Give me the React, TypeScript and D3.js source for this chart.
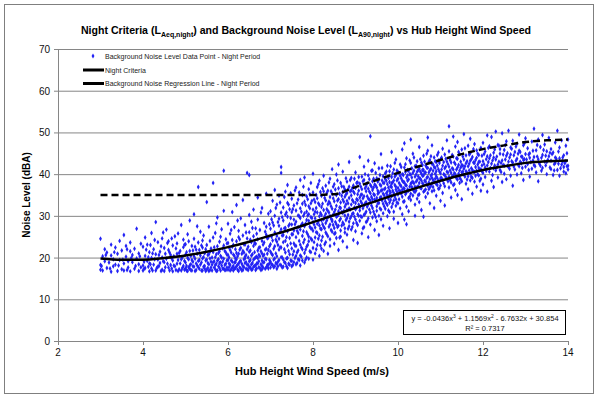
import * as d3 from "d3";

// measured background noise, night period: [wind speed m/s, levels dB(A) at that speed]
const band3to4: [number, number[]][] = [
  [3.0, [24.5, 18.2, 17.1]], [3.05, [20.3, 16.9]], [3.1, [19.1, 22.0]], [3.15, [17.5, 21.2]],
  [3.2, [18.8]], [3.25, [23.1, 16.6, 20.5]], [3.3, [17.9, 19.6]], [3.35, [22.4, 18.3]],
  [3.4, [16.8, 20.9]], [3.45, [19.4, 24.0]], [3.5, [17.2, 21.7]], [3.55, [18.6, 25.4, 16.9]],
  [3.6, [20.2, 22.8]], [3.65, [17.6, 19.1]], [3.7, [21.5, 16.7, 23.6]], [3.75, [18.9, 20.6]],
  [3.8, [17.3, 22.1]], [3.85, [19.8, 26.9]], [3.9, [16.8, 21.0, 18.4]], [3.95, [23.3, 17.7]],
  [3.025, [18.0]], [3.125, [20.6]], [3.225, [17.4]], [3.325, [21.3]], [3.425, [18.1]],
  [3.525, [19.5]], [3.625, [17.0, 22.0]], [3.725, [19.9]], [3.825, [18.0]], [3.925, [20.3]],
];
const band4to5: [number, number[]][] = [
  [4.0, [18.1, 22.6, 16.9]], [4.05, [20.4, 17.5, 24.8]], [4.1, [19.2, 23.1]], [4.15, [16.7, 21.3, 18.6]],
  [4.2, [25.9, 19.9, 17.4]], [4.25, [22.0, 18.3]], [4.3, [16.9, 20.8, 28.5]], [4.35, [19.5, 23.7, 17.8]],
  [4.4, [21.4, 18.7]], [4.45, [17.1, 24.6, 20.0]], [4.5, [18.9, 22.3, 16.8]], [4.55, [26.7, 19.7]],
  [4.6, [17.6, 21.8, 23.9]], [4.65, [20.6, 18.2]], [4.7, [16.7, 22.9, 19.3]], [4.75, [25.1, 17.9]],
  [4.8, [20.9, 18.5, 23.4]], [4.85, [17.2, 21.1]], [4.9, [19.6, 27.8, 16.9]], [4.95, [22.5, 18.0, 24.3]],
  [4.025, [19.0, 17.3]], [4.075, [21.9]], [4.125, [17.8, 20.1]], [4.175, [23.0, 18.4]],
  [4.225, [16.9, 21.0]], [4.275, [19.6, 24.2]], [4.325, [17.5]], [4.375, [20.6, 18.0]],
  [4.425, [22.7, 16.8]], [4.475, [19.1, 26.0]], [4.525, [17.7, 20.9]], [4.575, [18.5, 23.5]],
  [4.625, [16.9, 21.2]], [4.675, [19.8, 17.4, 24.6]], [4.725, [20.3, 18.1]], [4.775, [17.0, 22.2]],
  [4.825, [19.4, 16.8, 25.8]], [4.875, [21.6, 18.6]], [4.925, [17.5, 20.0]], [4.975, [19.2, 23.1, 17.1]],
];
const band5to6: [number, number[]][] = [
  [5.0, [17.4, 20.7, 23.2, 18.8]], [5.05, [19.9, 16.8, 25.6]], [5.1, [21.6, 18.1, 28.9, 17.3]],
  [5.15, [22.8, 19.4, 16.9]], [5.2, [24.5, 17.8, 20.3, 30.4]], [5.25, [18.6, 21.9, 17.0]],
  [5.3, [36.9, 19.2, 23.6, 17.7]], [5.35, [20.5, 18.3, 26.2]], [5.4, [16.9, 22.4, 19.8, 24.1]],
  [5.45, [18.0, 21.0, 17.4]], [5.5, [33.3, 23.0, 19.5, 17.1]], [5.55, [20.8, 27.4, 18.4, 16.8]],
  [5.6, [22.2, 17.6, 19.0]], [5.65, [37.9, 24.8, 18.9, 21.3]], [5.7, [17.2, 20.1, 25.9, 18.2]],
  [5.75, [29.6, 19.3, 16.9, 22.7]], [5.8, [18.7, 21.5, 17.5, 23.8]], [5.85, [20.0, 26.8, 18.1]],
  [5.9, [40.8, 17.3, 22.9, 19.7, 31.2]], [5.95, [18.5, 24.4, 21.2, 17.0]],
  [5.025, [18.0, 21.3, 16.9]], [5.075, [19.6, 17.6, 23.9]], [5.125, [20.4, 18.4, 17.0]],
  [5.175, [21.7, 17.9, 19.0]], [5.225, [16.8, 19.7, 22.6]], [5.275, [18.1, 20.9, 27.5]],
  [5.325, [17.3, 21.8, 19.4]], [5.375, [18.8, 16.9, 22.9]], [5.425, [20.1, 17.8, 25.3]],
  [5.475, [19.3, 22.0, 16.8]], [5.525, [17.5, 20.6, 18.7]], [5.575, [21.4, 17.0, 19.8, 24.0]],
  [5.625, [18.3, 20.0, 16.9]], [5.675, [17.6, 22.5, 19.1]], [5.725, [20.8, 18.5, 16.8, 28.2]],
  [5.775, [17.9, 21.1, 19.6]], [5.825, [16.9, 20.4, 18.8, 25.0]], [5.875, [19.0, 22.2, 17.4]],
  [5.925, [18.2, 21.6, 17.0]], [5.975, [20.7, 19.3, 23.4, 17.6]],
];
const band6to7: [number, number[]][] = [
  [6.0, [19.4, 17.1, 23.5, 28.1, 20.6]], [6.05, [18.2, 21.8, 25.7, 16.9]],
  [6.1, [22.6, 19.0, 17.6, 30.9, 24.2]], [6.15, [18.8, 20.4, 27.3, 17.3]],
  [6.2, [21.1, 17.9, 32.6, 19.6, 23.9]], [6.25, [16.8, 24.9, 18.5, 20.9, 26.4]],
  [6.3, [19.2, 22.3, 17.4, 29.4]], [6.35, [18.0, 21.6, 25.3, 17.0, 33.8]],
  [6.4, [20.2, 23.1, 18.7, 27.8, 19.8]], [6.45, [40.3, 17.2, 22.0, 24.6, 18.3]],
  [6.5, [39.8, 21.4, 19.1, 26.1, 17.7, 30.2]], [6.55, [18.4, 23.7, 20.5, 17.1, 28.6]],
  [6.6, [22.8, 19.5, 25.1, 17.8, 31.5]], [6.65, [20.0, 18.1, 27.0, 23.3, 17.0]],
  [6.7, [24.4, 19.9, 21.7, 18.6, 34.4, 29.1]], [6.75, [17.5, 22.5, 26.6, 20.3]],
  [6.8, [19.3, 18.0, 24.0, 31.9, 21.0, 17.2]], [6.85, [23.6, 20.7, 28.3, 18.9]],
  [6.9, [17.7, 25.5, 19.6, 22.1, 35.3, 27.4]], [6.95, [21.8, 18.3, 30.5, 24.8, 17.4]],
  [6.025, [17.7, 20.0, 18.6, 22.4]], [6.075, [19.3, 17.2, 21.2, 26.6]], [6.125, [18.0, 20.7, 16.9, 23.0]],
  [6.175, [19.7, 17.5, 22.0, 18.9]], [6.225, [17.1, 20.3, 18.3, 28.9]], [6.275, [21.9, 19.0, 17.6, 24.4]],
  [6.325, [18.5, 20.9, 16.9]], [6.375, [19.6, 17.7, 23.2, 21.2]], [6.425, [17.3, 18.9, 20.6, 26.0]],
  [6.475, [20.0, 18.2, 22.6, 17.0]], [6.525, [17.6, 19.4, 24.3, 21.7]], [6.575, [18.7, 20.8, 17.2, 27.1]],
  [6.625, [21.3, 18.0, 19.8, 23.5]], [6.675, [17.4, 20.2, 18.6, 25.7]], [6.725, [19.1, 17.7, 22.3, 20.7]],
  [6.775, [18.4, 21.5, 17.0, 30.8]], [6.825, [20.4, 18.8, 23.1, 17.6]], [6.875, [19.7, 17.3, 21.9, 26.2]],
  [6.925, [18.2, 20.9, 24.6, 17.9]], [6.975, [19.4, 22.7, 18.6, 28.0]],
];
const band7to8: [number, number[]][] = [
  [7.0, [19.0, 23.2, 26.9, 17.6, 31.1, 21.4]], [7.05, [18.2, 28.4, 24.1, 20.6, 33.6]],
  [7.1, [22.7, 17.9, 30.0, 19.8, 26.0, 36.2]], [7.15, [20.3, 25.2, 18.5, 32.7, 23.8, 17.3]],
  [7.2, [27.6, 21.9, 19.4, 29.3, 34.9, 24.5]], [7.25, [41.7, 40.3, 18.1, 22.4, 26.8, 30.8, 20.1]],
  [7.3, [17.8, 23.7, 28.9, 19.5, 32.0, 25.4]], [7.35, [21.2, 27.1, 18.7, 35.8, 24.0, 30.3]],
  [7.4, [19.9, 29.8, 22.9, 17.5, 26.3, 33.1, 37.4]], [7.45, [24.7, 20.8, 31.6, 18.3, 28.0]],
  [7.5, [22.2, 27.9, 19.2, 34.1, 25.6, 30.9, 17.9]], [7.55, [26.5, 21.5, 29.1, 18.9, 32.5, 23.4]],
  [7.6, [20.4, 24.9, 31.3, 28.6, 36.8, 18.4, 22.8]], [7.65, [27.3, 19.6, 33.9, 25.9, 30.1, 21.7]],
  [7.7, [23.1, 29.5, 18.1, 26.7, 38.6, 31.8, 20.5]], [7.75, [25.2, 32.9, 22.0, 28.2, 19.3, 35.0]],
  [7.8, [30.6, 24.3, 27.5, 21.1, 33.4, 18.8, 39.2]], [7.85, [26.1, 29.0, 22.6, 31.0, 20.0, 34.7]],
  [7.9, [28.8, 23.9, 32.3, 25.0, 36.4, 19.7, 30.4]], [7.95, [27.0, 21.3, 33.0, 29.7, 24.6, 37.9]],
  [7.025, [18.4, 20.9, 25.0, 29.2]], [7.075, [17.7, 22.1, 27.7, 19.5]], [7.125, [21.0, 18.7, 24.3, 31.9]],
  [7.175, [19.0, 23.0, 28.5, 17.9]], [7.225, [22.5, 18.3, 26.1, 33.2]], [7.275, [20.0, 25.3, 17.6, 29.7]],
  [7.325, [18.9, 22.0, 27.0, 34.5]], [7.375, [24.9, 19.8, 30.8, 17.9]], [7.425, [21.6, 27.6, 18.5, 32.7]],
  [7.475, [23.4, 19.3, 29.5, 35.4]], [7.525, [20.7, 25.6, 31.6, 18.2]], [7.575, [22.9, 28.0, 19.9, 36.1]],
  [7.625, [26.4, 21.2, 33.0, 18.7]], [7.675, [24.0, 29.9, 19.4, 35.6]], [7.725, [27.8, 22.4, 31.0, 20.2]],
  [7.775, [23.6, 30.0, 26.3, 37.0]], [7.825, [28.1, 21.9, 32.6, 19.5]], [7.875, [25.6, 34.0, 23.0, 30.1]],
  [7.925, [27.4, 31.8, 21.5, 35.2]], [7.975, [29.5, 24.2, 33.6, 26.9]],
];
const band8to9: [number, number[]][] = [
  [8.0, [31.5, 26.4, 22.3, 35.6, 28.5, 19.5, 40.1]], [8.05, [29.4, 24.8, 33.3, 27.2, 21.0, 31.0]],
  [8.1, [25.9, 30.8, 36.9, 23.0, 28.1, 34.2]], [8.15, [32.6, 27.7, 20.4, 29.9, 38.4, 25.3]],
  [8.2, [30.2, 24.1, 34.8, 28.9, 22.1, 32.1, 26.8]], [8.25, [27.4, 35.9, 31.4, 21.6, 29.2, 39.6]],
  [8.3, [33.7, 26.0, 30.5, 23.7, 37.2, 28.3]], [8.35, [29.6, 32.8, 25.1, 36.0, 20.9, 31.2]],
  [8.4, [27.9, 34.5, 30.0, 24.4, 38.9, 33.0, 22.8]], [8.45, [31.7, 28.7, 35.3, 26.2, 41.2, 29.0]],
  [8.5, [33.5, 25.7, 30.9, 37.6, 27.1, 23.3]], [8.55, [29.8, 35.0, 32.4, 24.7, 39.9, 28.0]],
  [8.6, [31.1, 27.6, 36.6, 34.0, 21.8, 30.3, 42.3]], [8.65, [33.2, 26.5, 29.3, 37.9, 31.9, 25.0]],
  [8.7, [35.7, 30.7, 28.4, 33.9, 23.9, 40.6]], [8.75, [32.2, 27.0, 36.3, 30.1, 34.6, 26.0]],
  [8.8, [29.5, 38.2, 33.6, 25.5, 31.4, 35.5, 22.5]], [8.85, [34.3, 28.6, 37.0, 31.8, 27.5, 42.9]],
  [8.9, [32.7, 36.1, 29.9, 26.7, 34.9, 39.1]], [8.95, [30.6, 33.4, 28.2, 37.3, 24.2, 35.8]],
  [8.025, [27.9, 33.9, 23.7, 30.4]], [8.075, [31.9, 26.1, 35.0, 22.0]], [8.125, [28.6, 33.0, 24.5, 37.6]],
  [8.175, [30.7, 26.9, 35.7, 22.9]], [8.225, [32.9, 28.0, 25.0, 36.6]], [8.275, [29.9, 34.3, 27.0, 23.2]],
  [8.325, [31.6, 28.9, 35.5, 25.6]], [8.375, [33.4, 27.4, 38.0, 30.8]], [8.425, [29.3, 35.9, 26.6, 32.3]],
  [8.475, [34.2, 30.3, 27.8, 37.0]], [8.525, [31.5, 28.5, 36.3, 25.9]], [8.575, [33.7, 30.0, 38.5, 27.3]],
  [8.625, [32.0, 35.3, 28.9, 24.8]], [8.675, [34.8, 30.9, 27.7, 37.1]], [8.725, [31.2, 36.9, 33.4, 28.0]],
  [8.775, [35.1, 29.0, 32.8, 39.0]], [8.825, [33.0, 36.4, 30.2, 26.9]], [8.875, [35.9, 31.5, 38.6, 29.4]],
  [8.925, [33.8, 30.5, 36.7, 27.3]], [8.975, [35.4, 32.0, 38.9, 29.8]],
];
const band9to10: [number, number[]][] = [
  [9.0, [33.1, 36.7, 29.1, 31.6, 40.4, 26.3]], [9.05, [35.2, 30.4, 38.0, 27.8, 33.8, 23.5]],
  [9.1, [31.3, 34.4, 28.8, 37.7, 32.0, 44.1]], [9.15, [36.4, 29.7, 33.0, 25.8, 39.4, 35.1]],
  [9.2, [32.5, 38.6, 30.2, 34.7, 27.3, 41.8]], [9.25, [35.9, 31.0, 28.5, 37.1, 33.3]],
  [9.3, [29.4, 34.1, 39.7, 32.8, 36.5, 24.9, 43.2]], [9.35, [49.1, 33.6, 30.8, 37.4, 35.4, 27.9]],
  [9.4, [31.9, 36.2, 34.0, 40.9, 29.6, 38.3]], [9.45, [33.9, 30.3, 37.5, 35.0, 42.6, 26.6]],
  [9.5, [36.8, 32.3, 39.0, 34.3, 28.7, 31.2]], [9.55, [35.6, 30.0, 38.7, 33.1, 41.4, 25.4]],
  [9.6, [34.5, 37.2, 31.5, 36.0, 29.2, 44.8]], [9.65, [32.9, 39.5, 35.3, 30.6, 37.9, 27.6]],
  [9.7, [36.6, 34.2, 40.2, 31.7, 33.5, 38.8]], [9.75, [35.8, 29.9, 37.6, 42.0, 32.6, 34.8]],
  [9.8, [38.1, 33.2, 36.1, 30.9, 40.7, 27.0, 35.0]], [9.85, [34.7, 37.8, 32.1, 39.3, 36.9, 45.3]],
  [9.9, [31.0, 35.5, 38.5, 33.7, 41.1, 29.3]], [9.95, [36.3, 39.8, 34.0, 37.0, 32.4, 43.5]],
  [9.025, [34.0, 31.9, 37.9, 28.3]], [9.075, [36.0, 32.7, 30.0, 39.3]], [9.125, [33.5, 37.0, 35.0, 29.9]],
  [9.175, [31.8, 38.3, 34.2, 27.0]], [9.225, [36.6, 33.0, 40.0, 30.5]], [9.275, [34.7, 37.8, 32.2, 28.8]],
  [9.325, [35.8, 31.5, 38.8, 33.9]], [9.375, [37.0, 34.5, 32.5, 40.8]], [9.425, [35.2, 38.9, 31.0, 36.8]],
  [9.475, [37.3, 33.6, 40.3, 29.7]], [9.525, [35.3, 38.2, 33.0, 36.0]], [9.575, [37.5, 34.3, 39.8, 31.8]],
  [9.625, [36.2, 33.7, 38.5, 41.5]], [9.675, [34.9, 37.9, 32.3, 36.4]], [9.725, [38.4, 35.4, 33.0, 40.6]],
  [9.775, [36.8, 39.1, 34.1, 31.3]], [9.825, [37.1, 35.6, 41.9, 33.8]], [9.875, [38.0, 36.0, 40.2, 32.9]],
  [9.925, [37.4, 34.6, 39.4, 42.7]], [9.975, [38.5, 35.8, 33.2, 40.9]],
];
const band10to11: [number, number[]][] = [
  [10.0, [35.1, 38.9, 33.0, 40.5, 36.7, 28.3]], [10.05, [37.4, 31.8, 42.3, 35.9, 39.6]],
  [10.1, [34.6, 40.0, 36.2, 38.4, 30.4, 45.9]], [10.15, [38.0, 33.5, 41.6, 36.5, 29.1, 47.4]],
  [10.2, [35.6, 39.2, 37.3, 43.8, 32.2, 28.0]], [10.25, [40.8, 36.0, 34.3, 38.7, 31.1]],
  [10.3, [37.7, 42.7, 35.3, 39.9, 33.8, 48.3]], [10.35, [36.4, 40.3, 38.2, 34.9, 44.9]],
  [10.4, [39.4, 35.7, 41.9, 37.0, 32.7, 30.0]], [10.45, [38.6, 36.9, 43.1, 40.6, 34.1]],
  [10.5, [37.9, 41.3, 35.2, 39.0, 46.5, 33.3]], [10.55, [40.1, 36.6, 38.5, 42.8, 31.4]],
  [10.6, [39.7, 37.5, 44.4, 35.8, 41.0, 29.8]], [10.65, [38.3, 42.1, 36.3, 40.4, 34.5]],
  [10.7, [41.5, 37.2, 39.3, 45.6, 35.4, 48.8]], [10.75, [38.8, 43.4, 36.8, 40.9, 33.0]],
  [10.8, [40.0, 37.8, 42.5, 39.1, 35.9, 46.9]], [10.85, [41.7, 38.1, 44.0, 36.1, 31.9]],
  [10.9, [39.5, 42.9, 37.6, 40.7, 34.8]], [10.95, [41.2, 38.4, 45.2, 36.5, 43.3]],
  [10.025, [37.9, 36.1, 40.2, 34.0]], [10.075, [39.0, 35.3, 41.7, 37.1]], [10.125, [36.6, 39.8, 38.1, 33.4]],
  [10.175, [40.5, 37.4, 35.2, 42.4]], [10.225, [38.4, 36.3, 41.0, 39.7]], [10.275, [37.0, 40.0, 34.6, 43.3]],
  [10.325, [39.2, 36.9, 41.4, 38.0]], [10.375, [37.8, 40.8, 35.9, 44.0]], [10.425, [39.9, 38.2, 36.1, 42.0]],
  [10.475, [41.0, 37.1, 39.5, 35.0]], [10.525, [38.9, 40.6, 36.7, 43.6]], [10.575, [39.6, 37.8, 42.2, 41.0]],
  [10.625, [40.3, 38.4, 36.0, 43.0]], [10.675, [39.1, 41.6, 37.6, 44.9]], [10.725, [40.4, 38.0, 42.9, 36.4]],
  [10.775, [41.3, 39.6, 37.2, 44.3]], [10.825, [38.6, 40.8, 42.3, 36.9]], [10.875, [40.1, 43.1, 38.9, 41.5]],
  [10.925, [42.0, 39.0, 37.4, 44.6]], [10.975, [40.6, 38.2, 42.7, 36.6]],
];
const band11to12: [number, number[]][] = [
  [11.0, [40.2, 37.3, 43.6, 39.0, 33.6]], [11.05, [42.0, 38.6, 46.1, 35.5]],
  [11.1, [39.8, 41.4, 37.1, 44.7, 32.5]], [11.15, [43.0, 38.9, 40.6, 48.1]],
  [11.2, [51.5, 41.8, 39.4, 36.8, 45.5]], [11.25, [40.3, 42.8, 38.0, 34.4]],
  [11.3, [44.2, 39.6, 41.1, 37.4, 49.0]], [11.35, [42.4, 40.0, 46.6, 36.2]],
  [11.4, [38.7, 43.7, 41.6, 35.0, 47.7]], [11.45, [40.9, 44.8, 39.2, 37.9]],
  [11.5, [42.2, 38.3, 45.9, 40.4, 34.0]], [11.55, [41.3, 43.5, 39.9, 49.6]],
  [11.6, [44.5, 40.7, 37.7, 42.6]], [11.65, [39.5, 46.8, 41.9, 36.4]],
  [11.7, [43.2, 40.1, 38.5, 45.0, 48.5]], [11.75, [41.0, 44.1, 39.1, 35.3]],
  [11.8, [42.7, 47.2, 40.5, 38.2]], [11.85, [40.8, 43.9, 37.0, 45.7]],
  [11.9, [44.6, 41.5, 39.7, 42.9]], [11.95, [38.9, 46.3, 41.2, 36.0]],
  [11.025, [41.1, 39.1, 44.0]], [11.075, [40.0, 42.9, 37.8]], [11.125, [41.8, 39.3, 43.7]],
  [11.175, [40.4, 38.3, 42.4]], [11.225, [43.4, 40.9, 38.6]], [11.275, [41.4, 44.6, 39.5]],
  [11.325, [40.2, 42.8, 37.6]], [11.375, [43.8, 41.1, 39.0]], [11.425, [42.2, 40.1, 45.3]],
  [11.475, [41.6, 38.8, 43.0]], [11.525, [40.6, 44.2, 42.0]], [11.575, [41.9, 39.4, 46.2]],
  [11.625, [43.1, 40.3, 38.7]], [11.675, [42.5, 44.7, 40.9]], [11.725, [41.4, 39.3, 43.6]],
  [11.775, [42.8, 40.6, 46.0]], [11.825, [41.7, 43.4, 39.6]], [11.875, [42.3, 40.0, 44.9]],
  [11.925, [43.0, 41.0, 38.4]], [11.975, [42.1, 44.4, 40.7]],
];
const band12to13: [number, number[]][] = [
  [12.0, [43.1, 40.3, 47.5, 37.5]], [12.05, [41.6, 45.4, 39.3]], [12.1, [44.3, 42.1, 35.8, 49.3]],
  [12.15, [40.6, 46.7, 43.8]], [12.2, [42.5, 38.4, 48.9]], [12.25, [45.1, 41.4, 44.0, 36.9]],
  [12.3, [43.5, 50.2, 40.9]], [12.35, [47.0, 42.3, 39.2]], [12.4, [44.9, 41.0, 46.0]],
  [12.45, [38.1, 43.3, 49.8]], [12.5, [45.8, 42.0, 40.1]], [12.55, [44.4, 47.9, 38.8]],
  [12.6, [41.7, 43.0, 50.4]], [12.65, [46.4, 39.6, 44.7]], [12.7, [42.8, 48.0, 37.2]],
  [12.75, [45.3, 41.1]], [12.8, [43.7, 47.3, 39.9]], [12.85, [41.9, 45.6, 49.5]],
  [12.9, [44.2, 40.2, 42.6]], [12.95, [46.9, 43.4, 38.6]],
  [12.025, [42.4, 44.8]], [12.075, [40.8, 43.6]], [12.125, [42.9, 46.3]], [12.175, [41.5, 44.5]],
  [12.225, [43.3, 39.8]], [12.275, [42.1, 45.9]], [12.325, [44.2, 41.6]], [12.375, [43.0, 46.8]],
  [12.425, [42.7, 40.5]], [12.475, [44.7, 42.2]], [12.525, [43.5, 47.0]], [12.575, [42.0, 45.0]],
  [12.625, [44.0, 41.3]], [12.675, [43.1, 46.1]], [12.725, [44.5, 41.8]], [12.775, [43.2, 46.6]],
  [12.825, [42.3, 44.9]], [12.875, [45.3, 43.0]], [12.925, [41.5, 44.1]], [12.975, [43.6, 47.4]],
];
const band13to14: [number, number[]][] = [
  [13.0, [44.8, 41.8, 48.6]], [13.05, [42.4, 46.2]], [13.1, [39.4, 45.0, 43.9]], [13.15, [47.8, 41.3]],
  [13.2, [44.1, 50.9, 42.2]], [13.25, [45.7, 40.4]], [13.3, [43.6, 48.3, 38.3]], [13.35, [46.5, 42.0]],
  [13.4, [44.6, 41.5, 49.4]], [13.45, [47.1, 43.0]], [13.5, [40.0, 45.5, 42.9]], [13.55, [48.7, 44.3]],
  [13.6, [41.2, 46.0, 43.2]], [13.65, [45.2, 39.8]], [13.7, [47.6, 42.7, 44.0]], [13.75, [50.4, 41.0]],
  [13.8, [43.8, 46.4, 39.6]], [13.85, [48.1, 42.3]], [13.9, [41.7, 44.5, 40.6]], [13.95, [46.8, 43.1, 40.2]],
  [14.0, [42.0, 48.3, 41.1]],
  [13.025, [43.5]], [13.075, [44.7, 41.0]], [13.125, [42.9]], [13.175, [45.6, 43.3]], [13.225, [41.9]],
  [13.275, [44.2, 47.0]], [13.325, [42.5]], [13.375, [43.9, 40.8]], [13.425, [45.8]], [13.475, [42.1, 44.4]],
  [13.525, [43.4]], [13.575, [41.6, 45.1]], [13.625, [44.8]], [13.675, [42.4, 40.9]], [13.725, [43.7]],
  [13.775, [45.4, 42.5]], [13.825, [41.4]], [13.875, [44.0, 43.0]], [13.925, [42.6]], [13.975, [45.0, 41.9]],
];

// regression line and night criteria, read at 0.5 m/s steps
const curveSpeeds = [3, 3.5, 4, 4.5, 5, 5.5, 6, 6.5, 7, 7.5, 8, 8.5, 9, 9.5, 10, 10.5, 11, 11.5, 12, 12.5, 13, 13.5, 14];
const regressionLevels = [19.8, 19.5, 19.5, 19.9, 20.5, 21.4, 22.5, 23.8, 25.3, 26.8, 28.5, 30.2, 31.9, 33.6, 35.3, 36.9, 38.4, 39.8, 41.0, 41.9, 42.7, 43.1, 43.3];
const criteriaLevels = [35, 35, 35, 35, 35, 35, 35, 35, 35, 35, 35, 35.2, 36.9, 38.6, 40.3, 41.9, 43.4, 44.8, 46.0, 46.9, 47.7, 48.1, 48.3];

const xTicks = [2, 4, 6, 8, 10, 12, 14];
const yTicks = [0, 10, 20, 30, 40, 50, 60, 70];

const W = 598;
const H = 398;
const margin = { top: 49, right: 30, bottom: 57, left: 58 };
const FONT = "'Liberation Sans', Arial, sans-serif";

export default function App() {
  const x = d3.scaleLinear().domain([2, 14]).range([margin.left, W - margin.right]);
  const y = d3.scaleLinear().domain([0, 70]).range([H - margin.bottom, margin.top]);

  const points = [band3to4, band4to5, band5to6, band6to7, band7to8, band8to9, band9to10, band10to11, band11to12, band12to13, band13to14]
    .flat()
    .flatMap(([s, levels]) => levels.map((l) => [s, l] as [number, number]));

  const diamond = d3.symbol(d3.symbolDiamond, 7)()!;
  const line = d3
    .line<number>()
    .x((_, i) => x(curveSpeeds[i]))
    .y((d) => y(d))
    .curve(d3.curveMonotoneX);

  const x0 = x(2);
  const x1 = x(14);
  const yb = y(0);

  return (
    <svg width={W} height={H} style={{ position: "absolute", left: 0, top: 0, background: "#fff" }} fontFamily={FONT}>
      <rect x={4.5} y={4.5} width={W - 9} height={H - 9} fill="#fff" stroke="#7f7f7f" />

      {/* title */}
      <text x={306} y={34} textAnchor="middle" fontSize={10.6} fontWeight="bold" fill="#000">
        Night Criteria (L<tspan fontSize={7} dy={2.5}>Aeq,night</tspan>
        <tspan dy={-2.5}>) and Background Noise Level (L</tspan>
        <tspan fontSize={7} dy={2.5}>A90,night</tspan>
        <tspan dy={-2.5}>) vs Hub Height Wind Speed</tspan>
      </text>

      {/* gridlines */}
      {yTicks.map((t) => (
        <line key={t} x1={x0} x2={x1} y1={y(t) + 0.5} y2={y(t) + 0.5} stroke="#868686" strokeWidth={1} />
      ))}
      <line x1={x0 + 0.5} x2={x0 + 0.5} y1={y(70)} y2={yb} stroke="#868686" />

      {yTicks.map((t) => (
        <g key={t}>
          <line x1={x0 - 4} x2={x0} y1={y(t) + 0.5} y2={y(t) + 0.5} stroke="#868686" />
          <text x={x0 - 8} y={y(t) + 4} textAnchor="end" fontSize={10} fill="#111">
            {t}
          </text>
        </g>
      ))}
      {xTicks.map((t) => (
        <g key={t}>
          <line x1={x(t) + 0.5} x2={x(t) + 0.5} y1={yb} y2={yb + 4} stroke="#868686" />
          <text x={x(t)} y={yb + 15} textAnchor="middle" fontSize={10} fill="#111">
            {t}
          </text>
        </g>
      ))}

      {/* scatter */}
      <g fill="#2323f5">
        {points.map(([s, l], i) => (
          <path key={i} d={diamond} transform={`translate(${x(s)},${y(l)})`} />
        ))}
      </g>

      {/* lines */}
      <path d={line(criteriaLevels)!} fill="none" stroke="#000" strokeWidth={2.5} strokeDasharray="7,4" />
      <path d={line(regressionLevels)!} fill="none" stroke="#000" strokeWidth={2.5} />

      {/* legend */}
      <g fontSize={7} fill="#222">
        <path d={diamond} transform="translate(93,56)" fill="#2323f5" />
        <text x={105} y={58.5}>Background Noise Level Data Point - Night Period</text>
        <line x1={83} x2={104} y1={70} y2={70} stroke="#000" strokeWidth={3} />
        <text x={105} y={72.5}>Night Criteria</text>
        <line x1={83} x2={104} y1={83.5} y2={83.5} stroke="#000" strokeWidth={3} />
        <text x={105} y={86}>Background Noise Regression Line - Night Period</text>
      </g>

      {/* equation */}
      <rect x={403.5} y={310.5} width={162} height={24} fill="#fff" stroke="#000" />
      <text x={485} y={320.5} textAnchor="middle" fontSize={7.5} fill="#111">
        y = -0.0436x<tspan fontSize={5} dy={-3}>3</tspan>
        <tspan dy={3}> + 1.1569x</tspan>
        <tspan fontSize={5} dy={-3}>2</tspan>
        <tspan dy={3}> - 6.7632x + 30.854</tspan>
      </text>
      <text x={485} y={331} textAnchor="middle" fontSize={7.5} fill="#111">
        R² = 0.7317
      </text>

      {/* axis titles */}
      <text x={312} y={375} textAnchor="middle" fontSize={11} fontWeight="bold" fill="#000">
        Hub Height Wind Speed (m/s)
      </text>
      <text transform="translate(30,195) rotate(-90)" textAnchor="middle" fontSize={10} fontWeight="bold" fill="#000">
        Noise Level (dBA)
      </text>
    </svg>
  );
}
